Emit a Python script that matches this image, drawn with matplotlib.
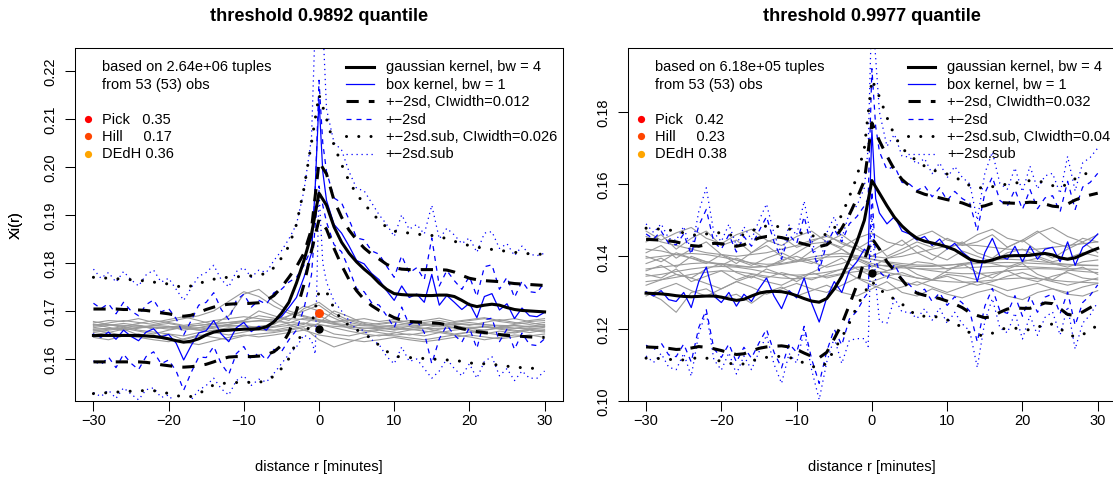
import numpy as np
import matplotlib.pyplot as plt
from matplotlib.lines import Line2D
from matplotlib.ticker import FormatStrFormatter

plt.rcParams['font.family'] = ['Liberation Sans', 'DejaVu Sans']
plt.rcParams['font.size'] = 10.5

# distance r [minutes]
r = np.arange(-30, 31)                       # grid of the smooth curves
r_box = np.concatenate([np.arange(-30, 0), [-0.5, 0, 0.5], np.arange(1, 31)])  # box kernel grid
r_obs = np.arange(-30, 31, 2)                # grid of the single obs curves

# ---------------- left panel: threshold 0.9892 quantile ----------------
gauss_l = [.1649, .1649, .1649, .1649, .1649, .1649, .1649, .1648, .1647, .1645,
           .1642, .1638, .1635, .1637, .1642, .1650, .1656, .1659, .1660, .1661,
           .1662, .1662, .1663, .1667, .1677, .1695, .1718, .1758, .1805, .1860,
           .1945,
           .1920, .1875, .1843, .1820, .1802, .1787, .1774, .1758, .1745, .1736,
           .1734, .1733, .1733, .1732, .1732, .1733, .1733, .1730, .1722, .1713,
           .1709, .1712, .1714, .1712, .1707, .1703, .1701, .1700, .1699, .1698]
sd_up_l = [.1704, .1704, .1704, .1704, .1703, .1703, .1702, .1701, .1699, .1696,
           .1694, .1691, .1689, .1691, .1697, .1703, .1708, .1712, .1714, .1715,
           .1715, .1716, .1717, .1722, .1732, .1749, .1770, .1792, .1820, .1870,
           .2010,
           .1985, .1930, .1895, .1868, .1848, .1831, .1818, .1808, .1797, .1790,
           .1787, .1786, .1786, .1786, .1786, .1786, .1785, .1781, .1774, .1768,
           .1765, .1763, .1762, .1761, .1759, .1757, .1756, .1755, .1754, .1753]
sd_lo_l = [.1594, .1594, .1594, .1594, .1594, .1594, .1594, .1593, .1591, .1588,
           .1586, .1584, .1583, .1584, .1586, .1589, .1594, .1600, .1604, .1605,
           .1605, .1605, .1606, .1609, .1615, .1628, .1655, .1700, .1755, .1825,
           .1890,
           .1870, .1830, .1795, .1765, .1742, .1724, .1711, .1701, .1694, .1686,
           .1681, .1678, .1677, .1676, .1675, .1674, .1671, .1667, .1663, .1660,
           .1657, .1655, .1653, .1651, .1649, .1648, .1647, .1646, .1645, .1645]
sub_up_l = [.1770, .1769, .1768, .1767, .1766, .1765, .1764, .1762, .1760, .1758,
            .1756, .1752, .1749, .1752, .1757, .1762, .1766, .1769, .1770, .1771,
            .1772, .1773, .1775, .1778, .1790, .1810, .1835, .1880, .1955, .2050,
            .2150,
            .2100, .2045, .2005, .1970, .1943, .1923, .1905, .1888, .1874, .1866,
            .1864, .1862, .1860, .1858, .1857, .1855, .1850, .1845, .1840, .1836,
            .1833, .1830, .1828, .1826, .1824, .1822, .1820, .1819, .1818, .1818]
sub_lo_l = [.1528, .1529, .1530, .1531, .1532, .1533, .1534, .1534, .1534, .1532,
            .1528, .1524, .1521, .1522, .1527, .1538, .1546, .1549, .1550, .1551,
            .1552, .1551, .1551, .1556, .1564, .1580, .1601, .1636, .1655, .1670,
            .1740,
            .1740, .1705, .1681, .1670, .1661, .1651, .1643, .1628, .1616, .1606,
            .1604, .1603, .1602, .1601, .1600, .1599, .1598, .1597, .1595, .1592,
            .1590, .1590, .1589, .1587, .1585, .1583, .1582, .1581, .1580, .1579]

box_l = [.1652, .1645, .1656, .1641, .1660, .1647, .1638, .1656, .1663, .1646,
         .1651, .1633, .1598, .1628, .1654, .1659, .1680, .1652, .1636, .1665,
         .1676, .1657, .1668, .1660, .1680, .1688, .1707, .1728, .1770, .1820,
         .1960, .2140, .1990,
         .1930, .1880, .1862, .1835, .1805, .1798, .1778, .1765, .1742, .1722,
         .1752, .1728, .1735, .1718, .1776, .1712, .1732, .1718, .1703, .1716,
         .1686, .1730, .1736, .1702, .1715, .1684, .1706, .1690, .1688, .1697]
box_up_l = [.1716, .1705, .1715, .1694, .1718, .1700, .1690, .1713, .1723, .1698,
            .1705, .1684, .1650, .1680, .1712, .1718, .1738, .1703, .1682, .1722,
            .1735, .1708, .1722, .1714, .1738, .1745, .1760, .1770, .1795, .1830,
            .1950, .2180, .2050,
            .1990, .1935, .1925, .1890, .1852, .1848, .1825, .1818, .1793, .1770,
            .1815, .1779, .1790, .1765, .1852, .1752, .1784, .1763, .1745, .1772,
            .1730, .1792, .1796, .1745, .1770, .1728, .1762, .1740, .1738, .1760]
box_lo_l = [.1596, .1588, .1604, .1582, .1610, .1591, .1578, .1605, .1615, .1590,
            .1598, .1575, .1535, .1572, .1604, .1603, .1626, .1590, .1568, .1611,
            .1626, .1598, .1614, .1598, .1620, .1615, .1640, .1660, .1705, .1775,
            .1880, .1960, .1920,
            .1885, .1838, .1823, .1787, .1746, .1740, .1717, .1712, .1690, .1665,
            .1708, .1671, .1680, .1655, .1590, .1642, .1670, .1650, .1635, .1665,
            .1622, .1682, .1685, .1636, .1662, .1620, .1654, .1630, .1628, .1642]
box_sub_up_l = [.1787, .1768, .1780, .1760, .1782, .1765, .1752, .1775, .1785, .1760,
                .1768, .1745, .1722, .1748, .1772, .1780, .1795, .1765, .1750, .1782,
                .1790, .1770, .1785, .1780, .1805, .1825, .1850, .1880, .1950, .2060,
                .2300, .2400, .2300,
                .2120, .2050, .2035, .1990, .1955, .1950, .1925, .1900, .1880, .1855,
                .1900, .1870, .1880, .1860, .1920, .1850, .1872, .1858, .1840, .1852,
                .1822, .1862, .1865, .1830, .1840, .1815, .1835, .1818, .1815, .1820]
box_sub_lo_l = [.1530, .1522, .1535, .1518, .1540, .1527, .1515, .1536, .1540, .1520,
                .1525, .1505, .1490, .1515, .1535, .1545, .1560, .1538, .1525, .1555,
                .1565, .1545, .1558, .1552, .1570, .1590, .1610, .1625, .1650, .1640,
                .1610, .1950, .1800,
                .1760, .1720, .1700, .1680, .1660, .1660, .1640, .1630, .1605, .1590,
                .1625, .1595, .1600, .1580, .1560, .1575, .1600, .1580, .1565, .1590,
                .1560, .1595, .1605, .1565, .1580, .1555, .1575, .1560, .1560, .1575]

obs_l = [
    [.1668, .1672, .1665, .1670, .1662, .1668, .1660, .1665, .1672, .1668, .1670, .1665, .1668, .1675, .1685, .1680,
     .1672, .1668, .1664, .1666, .1662, .1668, .1664, .1670, .1666, .1662, .1668, .1665, .1670, .1666, .1668],
    [.1660, .1655, .1662, .1650, .1645, .1652, .1640, .1648, .1655, .1658, .1664, .1668, .1672, .1690, .1710, .1700,
     .1685, .1672, .1660, .1655, .1650, .1652, .1648, .1655, .1650, .1656, .1652, .1658, .1654, .1660, .1656],
    [.1675, .1680, .1678, .1684, .1676, .1682, .1688, .1680, .1672, .1690, .1735, .1745, .1720, .1700, .1690, .1682,
     .1676, .1680, .1684, .1678, .1682, .1676, .1680, .1685, .1678, .1682, .1686, .1680, .1684, .1678, .1680],
    [.1650, .1656, .1648, .1645, .1640, .1636, .1642, .1650, .1645, .1640, .1648, .1652, .1655, .1660, .1665, .1640,
     .1625, .1635, .1645, .1650, .1648, .1644, .1640, .1645, .1650, .1646, .1640, .1645, .1650, .1648, .1652],
    [.1665, .1670, .1674, .1670, .1666, .1662, .1666, .1670, .1674, .1676, .1680, .1700, .1690, .1680, .1705, .1718,
     .1695, .1680, .1672, .1668, .1670, .1674, .1672, .1668, .1672, .1676, .1672, .1668, .1664, .1668, .1672],
    [.1658, .1662, .1668, .1660, .1656, .1652, .1648, .1655, .1660, .1665, .1662, .1660, .1658, .1662, .1668, .1672,
     .1665, .1658, .1652, .1648, .1654, .1660, .1664, .1658, .1652, .1656, .1660, .1664, .1660, .1655, .1660],
    [.1672, .1671, .1670, .1668, .1666, .1665, .1664, .1665, .1668, .1672, .1676, .1680, .1683, .1684, .1682, .1678,
     .1674, .1671, .1669, .1668, .1668, .1669, .1670, .1671, .1672, .1672, .1671, .1670, .1669, .1668, .1668],
    [.1662, .1664, .1660, .1666, .1670, .1668, .1664, .1660, .1664, .1670, .1668, .1664, .1660, .1666, .1672, .1690,
     .1675, .1664, .1658, .1662, .1666, .1662, .1658, .1655, .1660, .1664, .1668, .1662, .1658, .1662, .1666],
    [.1670, .1675, .1680, .1676, .1672, .1678, .1684, .1690, .1700, .1720, .1740, .1730, .1710, .1695, .1688, .1680,
     .1678, .1682, .1676, .1672, .1676, .1680, .1674, .1670, .1676, .1680, .1684, .1678, .1674, .1680, .1684],
    [.1645, .1640, .1648, .1652, .1646, .1640, .1635, .1630, .1638, .1645, .1650, .1646, .1650, .1655, .1660, .1650,
     .1645, .1640, .1636, .1640, .1645, .1640, .1636, .1640, .1645, .1650, .1646, .1642, .1646, .1650, .1645],
    [.1678, .1672, .1668, .1674, .1680, .1676, .1670, .1674, .1680, .1684, .1688, .1684, .1680, .1690, .1700, .1712,
     .1690, .1676, .1670, .1674, .1678, .1672, .1676, .1680, .1674, .1670, .1676, .1682, .1676, .1672, .1676],
    [.1655, .1660, .1664, .1658, .1652, .1660, .1666, .1660, .1655, .1650, .1656, .1662, .1666, .1670, .1675, .1665,
     .1652, .1648, .1655, .1660, .1656, .1650, .1655, .1662, .1666, .1660, .1655, .1650, .1656, .1662, .1658],
    [.1662, .1663, .1664, .1665, .1666, .1667, .1668, .1670, .1673, .1676, .1678, .1679, .1678, .1676, .1674, .1671,
     .1668, .1666, .1664, .1663, .1662, .1662, .1663, .1664, .1665, .1666, .1666, .1665, .1664, .1663, .1662],
    [.1672, .1666, .1660, .1664, .1670, .1674, .1668, .1662, .1666, .1672, .1680, .1690, .1685, .1672, .1660, .1675,
     .1700, .1688, .1674, .1666, .1660, .1664, .1670, .1675, .1670, .1664, .1660, .1666, .1672, .1676, .1670],
]
hill_l, est0_l = 0.1696, 0.1662
est_names = ['Pick   ', 'Hill     ', 'DEdH ']
est_vals_l = ['0.35', '0.17', '0.36']
labels_l = ['gaussian kernel, bw = 4', 'box kernel, bw = 1', '+\u22122sd, CIwidth=0.012',
            '+\u22122sd', '+\u22122sd.sub, CIwidth=0.026', '+\u22122sd.sub']

# ---------------- right panel: threshold 0.9977 quantile ----------------
gauss_r = [.1298, .1297, .1296, .1294, .1291, .1289, .1288, .1289, .1290, .1290,
           .1287, .1282, .1278, .1281, .1290, .1298, .1302, .1303, .1302, .1298,
           .1291, .1283, .1276, .1273, .1283, .1310, .1345, .1390, .1440, .1500,
           .1610,
           .1575, .1540, .1508, .1484, .1465, .1450, .1442, .1437, .1432, .1426,
           .1418, .1405, .1392, .1386, .1385, .1390, .1397, .1401, .1402, .1402,
           .1403, .1406, .1408, .1404, .1396, .1392, .1396, .1405, .1414, .1422]
sd_up_r = [.1447, .1446, .1445, .1443, .1440, .1435, .1430, .1428, .1432, .1436,
           .1435, .1431, .1428, .1432, .1442, .1451, .1455, .1455, .1452, .1447,
           .1440, .1434, .1429, .1427, .1432, .1448, .1478, .1515, .1560, .1610,
           .1770,
           .1720, .1678, .1640, .1613, .1595, .1580, .1572, .1567, .1562, .1557,
           .1553, .1548, .1540, .1536, .1540, .1547, .1549, .1548, .1547, .1548,
           .1550, .1549, .1545, .1539, .1537, .1545, .1556, .1564, .1570, .1575]
sd_lo_r = [.1149, .1148, .1147, .1145, .1142, .1143, .1146, .1150, .1148, .1144,
           .1139, .1133, .1128, .1130, .1138, .1145, .1149, .1151, .1152, .1149,
           .1142, .1132, .1123, .1119, .1134, .1172, .1212, .1265, .1320, .1390,
           .1450,
           .1420, .1385, .1360, .1335, .1310, .1298, .1292, .1288, .1283, .1276,
           .1268, .1258, .1244, .1236, .1230, .1233, .1245, .1254, .1257, .1256,
           .1256, .1263, .1271, .1269, .1255, .1239, .1236, .1246, .1258, .1269]
sub_up_r = [.1478, .1477, .1475, .1473, .1470, .1465, .1460, .1458, .1462, .1466,
            .1465, .1460, .1456, .1460, .1470, .1480, .1484, .1484, .1481, .1476,
            .1468, .1462, .1457, .1455, .1462, .1478, .1515, .1565, .1620, .1700,
            .1890,
            .1842, .1785, .1735, .1700, .1680, .1664, .1650, .1640, .1633, .1628,
            .1620, .1608, .1596, .1590, .1590, .1593, .1597, .1600, .1603, .1606,
            .1610, .1609, .1604, .1596, .1592, .1600, .1615, .1627, .1632, .1635]
sub_lo_r = [.1118, .1117, .1117, .1115, .1112, .1113, .1116, .1120, .1118, .1114,
            .1109, .1104, .1100, .1102, .1110, .1116, .1120, .1122, .1123, .1120,
            .1114, .1104, .1095, .1091, .1104, .1142, .1175, .1215, .1260, .1300,
            .1330,
            .1308, .1295, .1281, .1268, .1250, .1236, .1234, .1234, .1231, .1224,
            .1216, .1202, .1188, .1182, .1180, .1187, .1197, .1202, .1201, .1198,
            .1196, .1203, .1212, .1212, .1200, .1184, .1177, .1183, .1196, .1209]

box_r = [.1302, .1290, .1305, .1280, .1275, .1300, .1258, .1330, .1370, .1290,
         .1272, .1300, .1262, .1295, .1275, .1310, .1340, .1290, .1255, .1305,
         .1285, .1340, .1270, .1218, .1285, .1330, .1300, .1360, .1385, .1420,
         .1410, .1750, .1560,
         .1520, .1490, .1510, .1470, .1462, .1445, .1455, .1430, .1448, .1420,
         .1436, .1412, .1395, .1330, .1410, .1450, .1400, .1392, .1428, .1385,
         .1428, .1392, .1420, .1425, .1385, .1440, .1375, .1425, .1440, .1462]
box_up_r = [.1462, .1448, .1470, .1436, .1432, .1462, .1405, .1485, .1530, .1440,
            .1420, .1460, .1412, .1455, .1428, .1470, .1510, .1440, .1392, .1460,
            .1435, .1510, .1425, .1360, .1435, .1475, .1440, .1490, .1510, .1540,
            .1560, .1920, .1760,
            .1690, .1640, .1650, .1605, .1600, .1582, .1595, .1565, .1590, .1555,
            .1580, .1560, .1548, .1470, .1575, .1620, .1555, .1540, .1585, .1530,
            .1585, .1532, .1562, .1568, .1523, .1608, .1530, .1592, .1605, .1630]
box_lo_r = [.1154, .1140, .1160, .1127, .1122, .1157, .1107, .1203, .1252, .1144,
            .1120, .1157, .1107, .1148, .1118, .1160, .1198, .1134, .1091, .1158,
            .1134, .1206, .1115, .1048, .1137, .1198, .1154, .1226, .1248, .1286,
            .1300, .1580, .1390,
            .1358, .1337, .1378, .1337, .1321, .1299, .1309, .1275, .1299, .1264,
            .1288, .1271, .1248, .1163, .1262, .1311, .1249, .1242, .1291, .1234,
            .1289, .1245, .1287, .1296, .1241, .1301, .1209, .1272, .1292, .1321]
box_sub_up_r = [.1490, .1466, .1490, .1450, .1444, .1483, .1412, .1524, .1590, .1466,
                .1441, .1489, .1430, .1482, .1446, .1499, .1545, .1463, .1406, .1487,
                .1458, .1553, .1447, .1367, .1465, .1510, .1450, .1520, .1540, .1590,
                .1700, .2100, .1950,
                .1800, .1705, .1738, .1678, .1675, .1656, .1671, .1629, .1659, .1618,
                .1649, .1619, .1601, .1500, .1630, .1689, .1602, .1586, .1645, .1579,
                .1650, .1587, .1623, .1630, .1574, .1677, .1581, .1659, .1674, .1700]
box_sub_lo_r = [.1124, .1106, .1131, .1093, .1086, .1131, .1068, .1186, .1246, .1114,
                .1085, .1133, .1074, .1124, .1086, .1135, .1181, .1101, .1048, .1131,
                .1104, .1195, .1085, .1003, .1107, .1174, .1103, .1167, .1172, .1172,
                .1150, .1520, .1330,
                .1220, .1215, .1284, .1246, .1245, .1228, .1255, .1223, .1257, .1214,
                .1245, .1213, .1193, .1092, .1220, .1283, .1202, .1188, .1243, .1171,
                .1236, .1181, .1231, .1246, .1182, .1261, .1143, .1215, .1238, .1273]

obs_r = [
    [.1380, .1395, .1370, .1400, .1385, .1375, .1395, .1380, .1370, .1390, .1400, .1385, .1370, .1380, .1395, .1375,
     .1360, .1370, .1385, .1380, .1365, .1375, .1390, .1380, .1370, .1385, .1395, .1380, .1370, .1385, .1390],
    [.1350, .1340, .1365, .1330, .1345, .1360, .1335, .1350, .1340, .1355, .1345, .1335, .1350, .1365, .1340, .1330,
     .1345, .1355, .1340, .1335, .1350, .1345, .1335, .1350, .1360, .1340, .1330, .1345, .1355, .1340, .1335],
    [.1420, .1415, .1405, .1395, .1385, .1378, .1372, .1370, .1372, .1378, .1385, .1392, .1398, .1400, .1398, .1392,
     .1385, .1380, .1376, .1375, .1376, .1378, .1380, .1382, .1383, .1382, .1380, .1378, .1376, .1375, .1374],
    [.1330, .1335, .1342, .1350, .1356, .1360, .1358, .1352, .1345, .1340, .1338, .1340, .1345, .1352, .1358, .1360,
     .1355, .1348, .1340, .1334, .1330, .1328, .1330, .1334, .1338, .1340, .1338, .1334, .1330, .1328, .1326],
    [.1440, .1460, .1420, .1450, .1470, .1430, .1445, .1410, .1440, .1455, .1425, .1440, .1460, .1435, .1420, .1445,
     .1400, .1420, .1440, .1425, .1450, .1430, .1440, .1460, .1425, .1445, .1470, .1440, .1425, .1450, .1440],
    [.1300, .1280, .1245, .1300, .1310, .1285, .1295, .1270, .1300, .1315, .1290, .1305, .1320, .1300, .1290, .1310,
     .1330, .1300, .1290, .1310, .1295, .1285, .1300, .1310, .1290, .1280, .1300, .1310, .1295, .1290, .1305],
    [.1365, .1370, .1375, .1380, .1382, .1380, .1375, .1370, .1372, .1385, .1410, .1435, .1440, .1420, .1395, .1380,
     .1372, .1368, .1366, .1365, .1366, .1368, .1370, .1372, .1373, .1372, .1370, .1368, .1366, .1365, .1364],
    [.1400, .1385, .1410, .1395, .1380, .1405, .1390, .1375, .1395, .1410, .1390, .1380, .1400, .1420, .1390, .1370,
     .1395, .1410, .1430, .1405, .1390, .1415, .1400, .1385, .1410, .1420, .1400, .1385, .1395, .1410, .1400],
    [.1320, .1335, .1350, .1340, .1325, .1310, .1330, .1345, .1330, .1320, .1340, .1355, .1340, .1350, .1370, .1360,
     .1345, .1330, .1320, .1335, .1345, .1330, .1320, .1330, .1345, .1355, .1340, .1330, .1320, .1330, .1340],
    [.1455, .1440, .1430, .1420, .1410, .1405, .1400, .1405, .1410, .1420, .1430, .1445, .1455, .1440, .1420, .1400,
     .1395, .1400, .1410, .1420, .1428, .1432, .1430, .1425, .1420, .1418, .1420, .1425, .1430, .1435, .1440],
    [.1410, .1430, .1395, .1420, .1440, .1405, .1380, .1410, .1430, .1400, .1385, .1415, .1440, .1460, .1430, .1400,
     .1420, .1445, .1410, .1390, .1420, .1440, .1410, .1395, .1425, .1445, .1415, .1395, .1420, .1440, .1410],
    [.1360, .1375, .1350, .1340, .1365, .1380, .1355, .1340, .1365, .1350, .1330, .1355, .1375, .1395, .1365, .1345,
     .1360, .1375, .1350, .1335, .1360, .1380, .1355, .1340, .1365, .1380, .1350, .1335, .1360, .1370, .1350],
    [.1395, .1400, .1405, .1408, .1405, .1398, .1390, .1382, .1378, .1380, .1388, .1398, .1405, .1408, .1402, .1392,
     .1382, .1375, .1372, .1372, .1375, .1380, .1386, .1390, .1392, .1390, .1386, .1382, .1378, .1376, .1375],
    [.1470, .1445, .1465, .1480, .1450, .1435, .1460, .1475, .1445, .1430, .1455, .1470, .1440, .1425, .1450, .1465,
     .1440, .1430, .1455, .1470, .1445, .1435, .1460, .1475, .1450, .1440, .1465, .1480, .1455, .1440, .1460],
    [.1290, .1310, .1325, .1305, .1290, .1310, .1330, .1315, .1295, .1310, .1325, .1310, .1300, .1320, .1340, .1320,
     .1305, .1315, .1330, .1315, .1300, .1315, .1330, .1320, .1305, .1315, .1325, .1310, .1300, .1315, .1325],
    [.1345, .1350, .1358, .1365, .1370, .1372, .1370, .1364, .1356, .1350, .1348, .1350, .1356, .1364, .1370, .1374,
     .1375, .1372, .1366, .1360, .1355, .1352, .1352, .1355, .1360, .1364, .1366, .1365, .1362, .1358, .1355],
]
hill_r, est0_r = None, 0.1355
est_vals_r = ['0.42', '0.23', '0.38']
labels_r = ['gaussian kernel, bw = 4', 'box kernel, bw = 1', '+\u22122sd, CIwidth=0.032',
            '+\u22122sd', '+\u22122sd.sub, CIwidth=0.04', '+\u22122sd.sub']

# ---------------- drawing ----------------
W, H = 1113, 481
GREY = '#9a9a9a'
styles = [
    dict(color='black', lw=2.2, ls='-'),
    dict(color='blue', lw=0.9, ls='-'),
    dict(color='black', lw=2.2, ls=(0, (4, 3.3))),
    dict(color='blue', lw=0.9, ls=(0, (4, 4))),
    dict(color='black', lw=2.2, ls=(0, (0.01, 4)), dash_capstyle='round'),
    dict(color='blue', lw=0.9, ls=(0, (1, 3))),
]
dot_cols = ['red', 'orangered', 'orange']


def fx(px):
    return px / W


def fy(py):
    return 1 - py / H


def draw_panel(fig, px_box, ylim, yticks, title, tuples, gauss, sd_up, sd_lo, sub_up, sub_lo,
               box, box_up, box_lo, box_sub_up, box_sub_lo, obs, hill, est0, est_vals, labels, leg_x):
    x0, y0, x1, y1 = px_box
    ax = fig.add_axes([fx(x0), fy(y1), (x1 - x0) / W, (y1 - y0) / H])

    for o in obs:
        ax.plot(r_obs, o, color=GREY, lw=0.8)

    ax.plot(r_box, box_sub_up, **styles[5])
    ax.plot(r_box, box_sub_lo, **styles[5])
    ax.plot(r_box, box_up, **styles[3])
    ax.plot(r_box, box_lo, **styles[3])
    ax.plot(r_box, box, **styles[1])

    ax.plot(r, sub_up, **styles[4])
    ax.plot(r, sub_lo, **styles[4])
    ax.plot(r, sd_up, **styles[2])
    ax.plot(r, sd_lo, **styles[2])
    ax.plot(r, gauss, **styles[0])

    if hill is not None:
        ax.plot([0], [hill], 'o', color='orangered', ms=6.5, mec='none')
    ax.plot([0], [est0], 'o', color='black', ms=6, mec='none')

    ax.set_xlim(-32.4, 32.4)
    ax.set_ylim(*ylim)
    ax.set_xticks([-30, -20, -10, 0, 10, 20, 30])
    ax.set_yticks(yticks)
    ax.yaxis.set_major_formatter(FormatStrFormatter('%.2f'))
    ax.tick_params(direction='out', length=7.2, width=0.75, labelsize=10.5)
    ax.tick_params(axis='x', pad=1.5)
    ax.tick_params(axis='y', pad=5.5)
    for lab in ax.get_yticklabels():
        lab.set_rotation(90)
        lab.set_va('center')
    for s in ax.spines.values():
        s.set_linewidth(0.75)
    ax.set_xlabel('distance r [minutes]', fontsize=10.5)
    ax.set_ylabel('Xi(r)', fontsize=10.5)
    ax.xaxis.set_label_coords(0.5, (y1 - 460) / (y1 - y0))
    ax.yaxis.set_label_coords((23 - x0) / (x1 - x0), 0.5)

    fig.text(fx((x0 + x1) / 2), fy(20.7), title, ha='center', va='baseline',
             fontsize=13.1, fontweight='bold')

    # info block, upper left
    rows = [67.5 + 17.4 * i for i in range(6)]
    fig.text(fx(x0 + 27), fy(rows[0]), 'based on %s tuples' % tuples, va='center', fontsize=10.5)
    fig.text(fx(x0 + 27), fy(rows[1]), 'from 53 (53) obs', va='center', fontsize=10.5)
    for i in range(3):
        fig.add_artist(Line2D([fx(x0 + 12.7)], [fy(rows[3 + i])], marker='o', ms=5.2,
                              color=dot_cols[i], mec='none', transform=fig.transFigure))
        fig.text(fx(x0 + 27), fy(rows[3 + i]), est_names[i] + est_vals[i], va='center', fontsize=10.5)

    # legend, upper right
    for i, lab in enumerate(labels):
        fig.add_artist(Line2D([fx(leg_x - 39.5), fx(leg_x - 12)], [fy(rows[i]), fy(rows[i])],
                              transform=fig.transFigure, **styles[i]))
        fig.text(fx(leg_x), fy(rows[i]), lab, va='center', fontsize=10.5)
    return ax


fig = plt.figure(figsize=(W / 100, H / 100), dpi=100)

draw_panel(fig, (75.4, 49, 562.6, 401.7), (0.15132, 0.22472), [0.16, 0.17, 0.18, 0.19, 0.20, 0.21, 0.22],
           'threshold 0.9892 quantile', '2.64e+06', gauss_l, sd_up_l, sd_lo_l, sub_up_l, sub_lo_l,
           box_l, box_up_l, box_lo_l, box_sub_up_l, box_sub_lo_l, obs_l, hill_l, est0_l, est_vals_l,
           labels_l, 385.7)
draw_panel(fig, (628.0, 49, 1115.8, 401.7), (0.100, 0.19773), [0.10, 0.12, 0.14, 0.16, 0.18],
           'threshold 0.9977 quantile', '6.18e+05', gauss_r, sd_up_r, sd_lo_r, sub_up_r, sub_lo_r,
           box_r, box_up_r, box_lo_r, box_sub_up_r, box_sub_lo_r, obs_r, hill_r, est0_r, est_vals_r,
           labels_r, 947.3)

fig.savefig('out.png', dpi=100)
